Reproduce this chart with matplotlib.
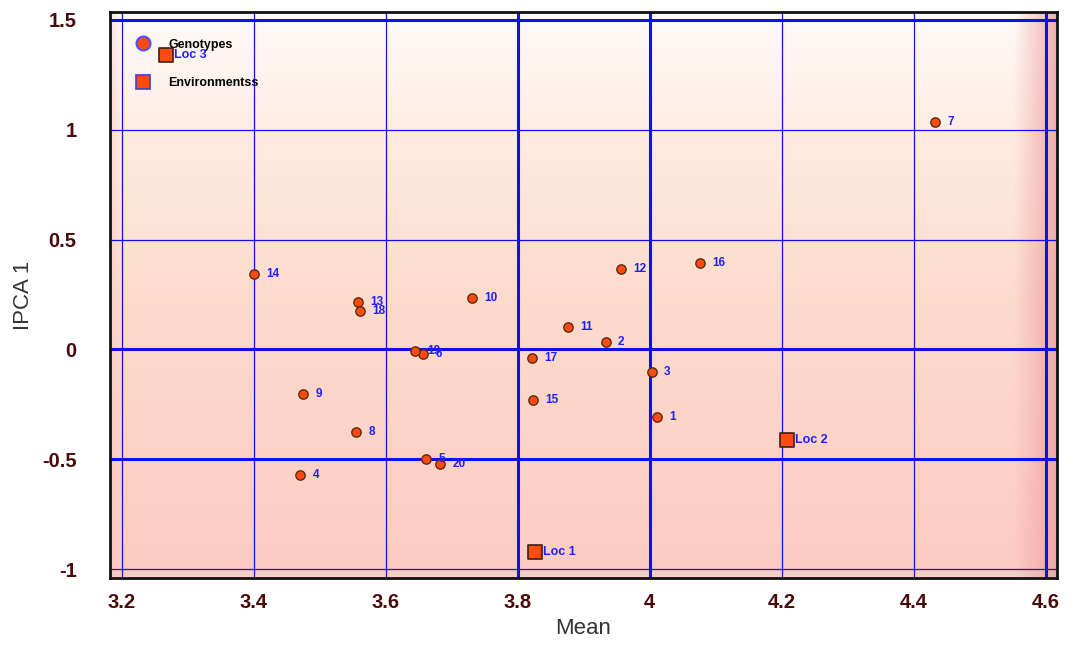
import numpy as np
import matplotlib
matplotlib.use("Agg")
import matplotlib.pyplot as plt
from matplotlib.lines import Line2D

# Genotype data
gen_labels = ["1", "2", "3", "4", "5", "6", "7", "8", "9", "10",
              "11", "12", "13", "14", "15", "16", "17", "18", "19", "20"]
gen_mean = [4.011, 3.933, 4.003, 3.470, 3.661, 3.656, 4.432, 3.555, 3.474, 3.730,
            3.876, 3.956, 3.558, 3.400, 3.823, 4.076, 3.821, 3.561, 3.644, 3.682]
gen_ipca = [-0.309, 0.032, -0.105, -0.573, -0.500, -0.023, 1.036, -0.377, -0.205, 0.236,
            0.100, 0.368, 0.214, 0.345, -0.232, 0.395, -0.041, 0.177, -0.009, -0.523]

# Environment data
env_labels = ["Loc 1", "Loc 2", "Loc 3"]
env_mean = [3.826, 4.208, 3.267]
env_ipca = [-0.923, -0.414, 1.341]

x_ticks = [3.2, 3.4, 3.6, 3.8, 4.0, 4.2, 4.4, 4.6]
x_ticklabels = ["3.2", "3.4", "3.6", "3.8", "4", "4.2", "4.4", "4.6"]
y_ticks = [-1, -0.5, 0, 0.5, 1, 1.5]
y_ticklabels = ["-1", "-0.5", "0", "0.5", "1", "1.5"]
thick_x = [3.8, 4.0, 4.6]
thick_y = [-0.5, 0, 1.5]

plt.rcParams['font.family'] = ['Liberation Sans', 'DejaVu Sans']

fig = plt.figure(figsize=(10.74, 6.5), dpi=100)
ax = fig.add_axes([0.1024, 0.111, 0.8817, 0.8705])
xlim = (3.182, 4.617)
ylim = (-1.04, 1.536)

# Background gradient
H, W = 300, 500
yy = np.linspace(0, 1, H)[:, None]  # 0 top, 1 bottom
xx = np.linspace(0, 1, W)[None, :]
top = np.array([1.0, 0.985, 0.975])
mid = np.array([0.99, 0.86, 0.80])
bot = np.array([0.99, 0.80, 0.77])
t = yy[..., None]
col = np.where(t < 0.5,
               top + (mid - top) * np.clip(t / 0.5, 0, 1) ** 0.9,
               mid + (bot - mid) * np.clip((t - 0.5) / 0.5, 0, 1))
col = np.broadcast_to(col, (H, W, 3)).copy()
right_edge = np.array([0.93, 0.62, 0.62])
rw = np.clip((xx - 0.955) / 0.045, 0, 1)[..., None]
col = col * (1 - rw * 0.8) + right_edge * rw * 0.8
lw_ = np.clip((0.012 - xx) / 0.012, 0, 1)[..., None]
col = col * (1 - lw_ * 0.4) + np.array([0.97, 0.75, 0.75]) * lw_ * 0.4
ax.imshow(col, extent=[xlim[0], xlim[1], ylim[0], ylim[1]], aspect='auto',
          origin='upper', zorder=0, interpolation='bilinear')

# Grid lines
for xv in x_ticks:
    ax.axvline(xv, color='#1010ee', lw=2.2 if xv in thick_x else 0.9, zorder=1)
for yv in y_ticks:
    ax.axhline(yv, color='#1010ee', lw=2.2 if yv in thick_y else 0.9, zorder=1)

# Genotypes
ax.scatter(gen_mean, gen_ipca, s=45, marker='o', facecolor='#ff4a10',
           edgecolor='#5a2a10', linewidths=1.0, zorder=3)
for lab, xv, yv in zip(gen_labels, gen_mean, gen_ipca):
    ax.annotate(lab, (xv, yv), xytext=(9, 0), textcoords='offset points',
                color='#2020ff', fontsize=8.5, fontweight='bold', va='center', ha='left', zorder=4)

# Environments
ax.scatter(env_mean, env_ipca, s=110, marker='s', facecolor='#ff4a10',
           edgecolor='#3a2010', linewidths=1.2, zorder=3)
for lab, xv, yv in zip(env_labels, env_mean, env_ipca):
    ax.annotate(lab, (xv, yv), xytext=(6, 0), textcoords='offset points',
                color='#2020ff', fontsize=9, fontweight='bold', va='center', ha='left', zorder=4)

ax.set_xlim(*xlim)
ax.set_ylim(*ylim)
ax.set_xticks(x_ticks)
ax.set_xticklabels(x_ticklabels)
ax.set_yticks(y_ticks)
ax.set_yticklabels(y_ticklabels)
ax.tick_params(length=0, labelsize=14.5, labelcolor='#4a0a0a')
ax.tick_params(axis='y', pad=24)
ax.tick_params(axis='x', pad=11)
for lbl in ax.get_xticklabels() + ax.get_yticklabels():
    lbl.set_fontweight('bold')
ax.set_xlabel('Mean', fontsize=16, color='#333333', labelpad=4)
ax.set_ylabel('IPCA 1', fontsize=16, color='#333333', labelpad=6)
for sp in ax.spines.values():
    sp.set_linewidth(2)
    sp.set_color('#111111')

handles = [
    Line2D([], [], marker='o', linestyle='none', markersize=10, markerfacecolor='#ff4a10',
           markeredgecolor='#5050ff', markeredgewidth=1.5, label='Genotypes'),
    Line2D([], [], marker='s', linestyle='none', markersize=9.5, markerfacecolor='#ff4a10',
           markeredgecolor='#4040cc', markeredgewidth=1.2, label='Environmentss'),
]
leg = ax.legend(handles=handles, loc='upper left', bbox_to_anchor=(0.0285, 0.953),
                frameon=False, prop={'weight': 'bold', 'size': 9}, labelspacing=2.15,
                handlelength=1.0, handletextpad=1.5, borderaxespad=0, borderpad=0)
leg.set_zorder(2)

fig.savefig('out.png', dpi=100)
